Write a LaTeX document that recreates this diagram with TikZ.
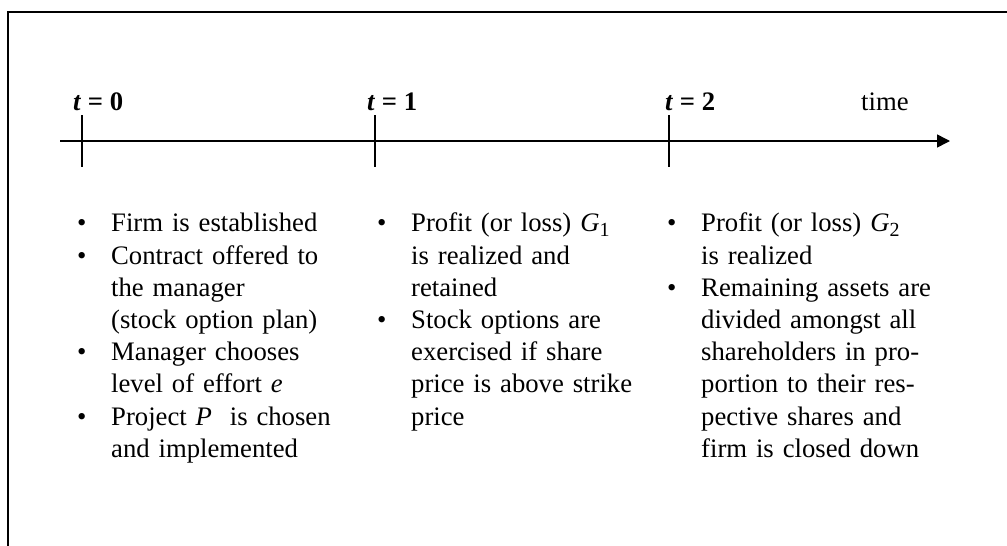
\documentclass[tikz,border=0pt]{standalone}
\usepackage{fontspec}
\setmainfont{Liberation Serif}
\usetikzlibrary{arrows.meta}
\newcommand{\evitem}[1]{\par\noindent\hangindent=34pt\hangafter=1\makebox[34pt][l]{\strut\textbullet}#1\par}
\newcommand{\lowidx}[1]{\raisebox{-5pt}{\fontsize{20}{24}\selectfont #1}}

\begin{document}
\begin{tikzpicture}[x=1pt, y=-1pt,
		events/.style={anchor=north west, inner sep=0pt, text width=320pt,
		font=\fontsize{26.7}{32.2}\selectfont\raggedright},
		stamp/.style={anchor=base west, inner sep=0pt, font=\fontsize{26.7}{32.2}\selectfont},
		tickmark/.style={line width=1.3pt}
		]
	\useasboundingbox (0,0) rectangle (1007,546);
	\draw[line width=2pt] (1007,12) -- (8,12) -- (8,546);

	\coordinate (start) at (60,141);
	\coordinate (tip) at (950,141);
	\draw[-{Triangle[length=13pt,width=13pt]}, line width=1.5pt] (start) -- (tip);

	\coordinate (tick0) at (82,141);
	\coordinate (tick1) at (375,141);
	\coordinate (tick2) at (669,141);
	\draw[tickmark] ([yshift=26pt]tick0) -- ([yshift=-26pt]tick0);
	\draw[tickmark] ([yshift=26pt]tick1) -- ([yshift=-26pt]tick1);
	\draw[tickmark] ([yshift=26pt]tick2) -- ([yshift=-26pt]tick2);

	\node[stamp](t0) at (73,110){\textbf{\textit{t} = 0}};
	\node[stamp](t1) at (367,110){\textbf{\textit{t} = 1}};
	\node[stamp](t2) at (665,110){\textbf{\textit{t} = 2}};
	\node[stamp](time) at (861,110){time};

	\node[events](ev0) at (77,199.5){%
		\evitem{Firm is established}
		\evitem{Contract offered to\newline the manager\newline (stock option plan)}
		\evitem{Manager chooses\newline level of effort \textit{e}}
		\evitem{Project \textit{P} \ is chosen\newline and implemented}};
	\node[events](ev1) at (377,199.5){%
		\evitem{Profit (or loss) \textit{G}\lowidx{1}\newline is realized and\newline retained}
		\evitem{Stock options are\newline exercised if share\newline price is above strike\newline price}};
	\node[events](ev2) at (667,199.5){%
		\evitem{Profit (or loss) \textit{G}\lowidx{2}\newline is realized}
		\evitem{Remaining assets are\newline divided amongst all\newline shareholders in pro-\newline portion to their res-\newline pective shares and\newline firm is closed down}};
\end{tikzpicture}
\end{document}
